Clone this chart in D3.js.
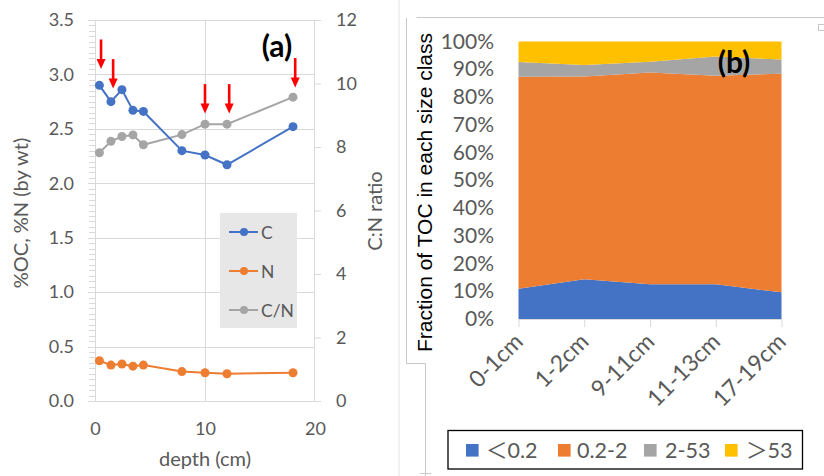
<!DOCTYPE html>
<html>
<head>
<meta charset="utf-8">
<script src="https://cdn.jsdelivr.net/npm/d3@7"></script>
<style>
  body { margin: 0; background: #fff; }
  svg { display: block; }
  .tick text { fill: #595959; font-family: Lato, "Noto Sans", sans-serif; }
</style>
</head>
<body>
<div class="chart"></div>
<script>
"use strict";

// panel (a): depth profile
var depth   = [0.4, 1.45, 2.45, 3.45, 4.4, 7.9, 10, 12, 18];
var pctC    = [2.90, 2.75, 2.86, 2.67, 2.66, 2.30, 2.26, 2.17, 2.52];
var pctN    = [0.37, 0.33, 0.34, 0.32, 0.33, 0.27, 0.26, 0.25, 0.26];
var ratioCN = [7.82, 8.18, 8.33, 8.38, 8.07, 8.39, 8.72, 8.72, 9.57];
var arrowDepth = [0.55, 1.65, 10, 12.2, 18.2];
var arrowTip   = [3.05, 2.87, 2.64, 2.64, 2.88];
var leftTicks  = [0, 0.5, 1, 1.5, 2, 2.5, 3, 3.5];
var rightTicks = [0, 2, 4, 6, 8, 10, 12];
var depthTicks = [0, 10, 20];

// panel (b): size class fractions (%)
var sections = ["0-1cm", "1-2cm", "9-11cm", "11-13cm", "17-19cm"];
var sizeClasses = ["\uFF1C0.2", "0.2-2", "2-53", "\uFF1E53"];
var fracLt02  = [10.9, 14.3, 12.5, 12.5, 9.6];
var frac02to2 = [76.4, 73.1, 76.3, 75.2, 78.8];
var frac2to53 = [5.3, 4.1, 3.9, 6.9, 5.1];
var fracGt53  = [7.4, 8.5, 7.3, 5.4, 6.5];
var pctTicks = [0, 10, 20, 30, 40, 50, 60, 70, 80, 90, 100];

var W = 824, H = 476;
var font = "Lato, 'Noto Sans', sans-serif";
var grid = "#d9d9d9";

var svg = d3.select(".chart").append("svg")
  .attr("width", W).attr("height", H);

//frame fragments
svg.append("line").attr("x1", 399).attr("x2", 399).attr("y1", 0).attr("y2", H)
  .attr("stroke", "#e3e3e3");
svg.append("path")
  .attr("d", "M416.5,17.5H824M406.5,18V363.5H425.5V476M420,473.5H431")
  .attr("fill", "none").attr("stroke", "#c8c8c8");
svg.append("rect").attr("x", 818.5).attr("y", 24.5).attr("width", 6).attr("height", 6)
  .attr("fill", "none").attr("stroke", "#c8c8c8");

// ---------- panel (a) ----------
var x = d3.scaleLinear().domain([0, 20]).range([95, 315]);
var yL = d3.scaleLinear().domain([0, 3.5]).range([401, 20]);
var yR = d3.scaleLinear().domain([0, 12]).range([401, 20]);

var gA = svg.append("g").attr("class", "panelA");

//minor ticks on left axis
gA.append("g").selectAll("line")
  .data(d3.range(0, 71).map(function(i){ return i * 0.05; }))
  .enter().append("line")
  .attr("x1", 89).attr("x2", 95)
  .attr("y1", function(d){ return Math.round(yL(d)) + 0.5; })
  .attr("y2", function(d){ return Math.round(yL(d)) + 0.5; })
  .attr("stroke", grid);

//horizontal grid
gA.append("g").selectAll("line").data(leftTicks).enter().append("line")
  .attr("x1", 88).attr("x2", 314)
  .attr("y1", function(d){ return Math.round(yL(d)) + 0.5; })
  .attr("y2", function(d){ return Math.round(yL(d)) + 0.5; })
  .attr("stroke", grid);
//vertical grid at 10
gA.append("line").attr("x1", Math.round(x(10)) + 0.5).attr("x2", Math.round(x(10)) + 0.5)
  .attr("y1", 20).attr("y2", 401).attr("stroke", grid);

//axes
var axL = gA.append("g").attr("transform", "translate(95,0)")
  .call(d3.axisLeft(yL).tickValues(leftTicks).tickFormat(d3.format(".1f")).tickSize(0).tickPadding(21));
var axR = gA.append("g").attr("transform", "translate(314,0)")
  .call(d3.axisRight(yR).tickValues(rightTicks).tickSize(7).tickPadding(15));
var axX = gA.append("g").attr("transform", "translate(0,401)")
  .call(d3.axisBottom(x).tickValues(depthTicks).tickSize(0).tickPadding(21));
[axL, axR, axX].forEach(function(a){
  a.select(".domain").attr("stroke", grid);
  a.selectAll(".tick line").attr("stroke", grid);
  a.selectAll(".tick text").style("font-size", "18px");
});
axX.select(".domain").attr("d", "M88,0.5H314");
axL.select(".domain").attr("d", "M0.5,20V401");

//series
var series = [
  { name: "C",   vals: pctC,    y: yL, color: "#4472C4" },
  { name: "N",   vals: pctN,    y: yL, color: "#ED7D31" },
  { name: "C/N", vals: ratioCN, y: yR, color: "#A5A5A5" }
];
var order = [2, 1, 0];
order.forEach(function(k){
  var s = series[k];
  var line = d3.line()
    .x(function(d, i){ return x(depth[i]); })
    .y(function(d){ return s.y(d); });
  gA.append("path").datum(s.vals)
    .attr("d", line).attr("fill", "none")
    .attr("stroke", s.color).attr("stroke-width", 2);
  gA.append("g").selectAll("circle").data(s.vals).enter().append("circle")
    .attr("cx", function(d, i){ return x(depth[i]); })
    .attr("cy", function(d){ return s.y(d); })
    .attr("r", 4.5).attr("fill", s.color);
});

//red arrows
var arrowLen = 29.5;
var arrows = gA.append("g").selectAll("g").data(arrowDepth).enter().append("g")
  .attr("transform", function(d, i){ return "translate(" + x(d) + "," + yL(arrowTip[i]) + ")"; });
arrows.append("line").attr("x1", 0).attr("x2", 0).attr("y1", -arrowLen).attr("y2", -8)
  .attr("stroke", "#ff0000").attr("stroke-width", 2.6);
arrows.append("path").attr("d", "M-4.5,-10L4.5,-10L0,0Z").attr("fill", "#ff0000");

//legend (a)
var legA = gA.append("g");
legA.append("rect").attr("x", 220).attr("y", 213).attr("width", 77).attr("height", 115)
  .attr("fill", "#e7e7e7");
var legItems = legA.selectAll(".item").data(series).enter().append("g")
  .attr("transform", function(d, i){ return "translate(0," + (232 + i * 39) + ")"; });
legItems.append("line").attr("x1", 229).attr("x2", 258)
  .attr("stroke", function(d){ return d.color; }).attr("stroke-width", 2);
legItems.append("circle").attr("cx", 244).attr("r", 4).attr("fill", function(d){ return d.color; });
legItems.append("text").attr("x", 261).attr("y", 6.5)
  .text(function(d){ return d.name; })
  .style("font-family", font).style("font-size", "17.5px").style("fill", "#595959");

gA.append("text").attr("x", 277).attr("y", 57).attr("text-anchor", "middle")
  .text("(a)").style("font-family", font).style("font-size", "30px").style("font-weight", "bold");

gA.append("text").attr("x", 205).attr("y", 466).attr("text-anchor", "middle")
  .text("depth (cm)").style("font-family", font).style("font-size", "20px").style("fill", "#595959");
gA.append("text").attr("transform", "translate(28,213) rotate(-90)").attr("text-anchor", "middle")
  .text("%OC, %N (by wt)").style("font-family", font).style("font-size", "20px").style("fill", "#595959");
gA.append("text").attr("transform", "translate(382,211) rotate(-90)").attr("text-anchor", "middle")
  .text("C:N ratio").style("font-family", font).style("font-size", "20px").style("fill", "#595959");

// ---------- panel (b) ----------
var xb = d3.scalePoint().domain(sections).range([518.5, 781.5]);
var yb = d3.scaleLinear().domain([0, 100]).range([319, 41.5]);
var colors = ["#4472C4", "#ED7D31", "#A5A5A5", "#FFC000"];
var rows = sections.map(function(s, i){
  return { sec: s, c0: fracLt02[i], c1: frac02to2[i], c2: frac2to53[i], c3: fracGt53[i] };
});
var stacked = d3.stack().keys(["c0", "c1", "c2", "c3"])(rows);

var gB = svg.append("g").attr("class", "panelB");
var area = d3.area()
  .x(function(d){ return xb(d.data.sec); })
  .y0(function(d){ return yb(d[0]); })
  .y1(function(d){ return yb(d[1]); });
gB.selectAll(".layer").data(stacked).enter().append("path")
  .attr("d", area).attr("fill", function(d, i){ return colors[i]; });

var axB = gB.append("g").attr("transform", "translate(0,319)")
  .call(d3.axisBottom(xb).tickSize(8).tickFormat(""));
axB.select(".domain").attr("stroke", grid).attr("d", "M518.5,0.5H781.5");
axB.selectAll(".tick line").attr("stroke", grid);

gB.append("g").selectAll("text").data(sections).enter().append("text")
  .attr("transform", function(d){ return "translate(" + (xb(d) + 6) + ",343) rotate(-45)"; })
  .attr("text-anchor", "end")
  .text(function(d){ return d; })
  .style("font-family", font).style("font-size", "23px").style("fill", "#595959");

var axYB = gB.append("g").attr("transform", "translate(518,0)")
  .call(d3.axisLeft(yb).tickValues(pctTicks).tickSize(0).tickPadding(24)
    .tickFormat(function(d){ return d + "%"; }));
axYB.select(".domain").remove();
axYB.selectAll(".tick text").style("font-size", "21px");

gB.append("text").attr("x", 734).attr("y", 73).attr("text-anchor", "middle")
  .text("(b)").style("font-family", font).style("font-size", "30px").style("font-weight", "bold");

gB.append("text").attr("transform", "translate(432,192.5) rotate(-90)").attr("text-anchor", "middle")
  .text("Fraction of TOC in each size class")
  .style("font-family", "'Liberation Sans', Arial, sans-serif").style("font-size", "21px").style("fill", "#000");

//legend (b)
var legB = gB.append("g");
legB.append("rect").attr("x", 448).attr("y", 430.5).attr("width", 354.5).attr("height", 38.5)
  .attr("fill", "#fff").attr("stroke", "#000").attr("stroke-width", 1.3);
var legX = [466, 558, 644, 725];
var legGap = [20, 19, 21, 21];
sizeClasses.forEach(function(name, i){
  legB.append("rect").attr("x", legX[i]).attr("y", 444).attr("width", 12.6).attr("height", 12.6)
    .attr("fill", colors[i]);
  legB.append("text").attr("x", legX[i] + legGap[i]).attr("y", 457.5)
    .text(name)
    .style("font-family", "Lato, 'Noto Sans CJK JP', sans-serif").style("font-size", "21.5px").style("fill", "#595959");
});
</script>
</body>
</html>
